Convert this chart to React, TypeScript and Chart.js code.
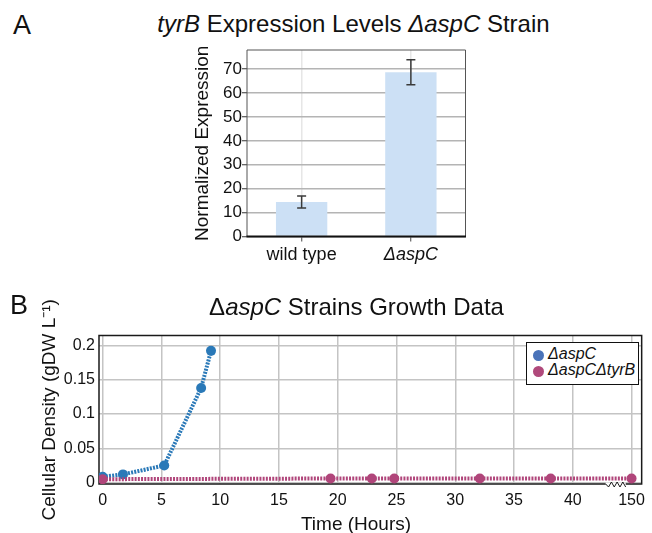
import React, { useEffect, useRef } from "react";
import { Chart, registerables } from "chart.js";

Chart.register(...registerables);

const FONT = '"Liberation Sans", Arial, Helvetica, sans-serif';

// ---- Panel A data ----
const expressionCategories = ["wild type", "ΔaspC"];
const expressionValues = [14.4, 68.7];
const expressionErrors = [2.5, 5.2];
const expressionTicks = [0, 10, 20, 30, 40, 50, 60, 70];

// ---- Panel B data ----
const aspCTime = [0, 1.73, 5.24, 8.38, 9.22];
const aspCDensity = [0.0086, 0.012, 0.025, 0.138, 0.192];
const aspCtyrBTime = [0, 19.39, 22.9, 24.81, 32.09, 38.12, 150];
const aspCtyrBDensity = [0.005, 0.006, 0.006, 0.006, 0.006, 0.006, 0.006];
const timeTicks = [0, 5, 10, 15, 20, 25, 30, 35, 40, 150];
const densityTicks = [0, 0.05, 0.1, 0.15, 0.2];
const seriesNames = ["ΔaspC", "ΔaspCΔtyrB"];

// broken time axis: everything past 40 h is drawn at the 45 slot
const BREAK_SLOT = 45;
const axisPos = (t: number) => (t > BREAK_SLOT ? BREAK_SLOT : t);

const BLUE = "#2a79b8";
const PINK = "#b0457a";
const LEGEND_BLUE = "#4a73b9";
const LEGEND_PINK = "#b0497b";
const BAR = "#cce0f5";

const panelAPlugin = {
  id: "panelAFrame",
  afterDatasetsDraw(chart: any) {
    const { ctx, chartArea, scales } = chart;
    const { left, right, top, bottom } = chartArea;
    const x = scales.x;
    const y = scales.y;
    ctx.save();
    ctx.strokeStyle = "#3a3a3a";
    ctx.lineWidth = 1.5;
    expressionValues.forEach((v, i) => {
      const cx = x.getPixelForValue(i);
      const yt = y.getPixelForValue(v + expressionErrors[i]);
      const yb = y.getPixelForValue(v - expressionErrors[i]);
      ctx.beginPath();
      ctx.moveTo(cx, yt);
      ctx.lineTo(cx, yb);
      ctx.moveTo(cx - 4.5, yt);
      ctx.lineTo(cx + 4.5, yt);
      ctx.moveTo(cx - 4.5, yb);
      ctx.lineTo(cx + 4.5, yb);
      ctx.stroke();
    });
    ctx.strokeStyle = "#555";
    ctx.lineWidth = 1;
    ctx.beginPath();
    ctx.moveTo(left, bottom);
    ctx.lineTo(left, top);
    ctx.lineTo(right, top);
    ctx.lineTo(right, bottom);
    ctx.stroke();
    ctx.strokeStyle = "#111";
    ctx.lineWidth = 2;
    ctx.beginPath();
    ctx.moveTo(left - 0.5, bottom);
    ctx.lineTo(right + 0.5, bottom);
    ctx.stroke();
    ctx.restore();
  },
};

const panelBPlugin = {
  id: "panelBFrame",
  beforeDatasetsDraw(chart: any) {
    const { ctx, chartArea } = chart;
    const { left, right, top, bottom } = chartArea;
    ctx.save();
    ctx.strokeStyle = "#1a1a1a";
    ctx.lineWidth = 1.5;
    ctx.strokeRect(left, top, right - left, bottom - top);
    ctx.restore();
  },
  afterDraw(chart: any) {
    const { ctx, chartArea, scales } = chart;
    const { bottom } = chartArea;
    const x0 = scales.x.getPixelForValue(42.8);
    const x1 = scales.x.getPixelForValue(44.5);
    ctx.save();
    ctx.strokeStyle = "#fff";
    ctx.lineWidth = 3;
    ctx.beginPath();
    ctx.moveTo(x0, bottom);
    ctx.lineTo(x1, bottom);
    ctx.stroke();
    ctx.strokeStyle = "#1a1a1a";
    ctx.lineWidth = 1;
    ctx.beginPath();
    const n = 7;
    for (let i = 0; i <= n; i++) {
      const px = x0 + ((x1 - x0) * i) / n;
      const py = i % 2 === 0 ? bottom - 2 : bottom + 3;
      if (i === 0) ctx.moveTo(px, bottom);
      else ctx.lineTo(px, py);
    }
    ctx.stroke();
    ctx.restore();
  },
};

export default function App() {
  const refA = useRef<HTMLCanvasElement | null>(null);
  const refB = useRef<HTMLCanvasElement | null>(null);

  useEffect(() => {
    Chart.defaults.font.family = FONT;
    Chart.defaults.color = "#111";

    const chartA = new Chart(refA.current as HTMLCanvasElement, {
      type: "bar",
      data: {
        labels: expressionCategories,
        datasets: [
          {
            data: expressionValues,
            backgroundColor: BAR,
            barPercentage: 0.47,
            categoryPercentage: 1,
          },
        ],
      },
      options: {
        animation: false,
        responsive: false,
        maintainAspectRatio: false,
        layout: { padding: { top: 12, right: 14.5, left: 0, bottom: 0 } },
        plugins: {
          legend: { display: false },
          tooltip: { enabled: false },
        },
        scales: {
          x: {
            grid: {
              offset: false,
              color: "#e6e6e6",
              lineWidth: 1.5,
              tickColor: "#444",
              tickLength: 5,
              tickWidth: 1,
            },
            border: { display: false },
            ticks: {
              color: "#111",
              padding: 3,
              font: (c: any) => ({
                size: 18,
                family: FONT,
                style: c.index === 1 ? "italic" : "normal",
              }),
            },
            afterFit: (s: any) => {
              s.height = 43.5;
            },
          },
          y: {
            min: 0,
            max: 78,
            afterBuildTicks: (s: any) => {
              s.ticks = expressionTicks.map((v) => ({ value: v }));
            },
            grid: {
              color: "#b4b4b4",
              lineWidth: 1.5,
              tickColor: "#333",
              tickLength: 5,
              tickWidth: 1,
            },
            border: { display: false },
            ticks: {
              color: "#111",
              padding: 0,
              font: { size: 17, family: FONT },
              callback: (v: any, i: number) => String(expressionTicks[i]),
            },
            title: {
              display: true,
              text: "Normalized Expression",
              color: "#111",
              font: { size: 19, family: FONT },
              padding: { top: 41, bottom: 0 },
            },
            afterFit: (s: any) => {
              s.width = 97;
            },
          },
        },
      } as any,
      plugins: [panelAPlugin],
    });

    const chartB = new Chart(refB.current as HTMLCanvasElement, {
      type: "line",
      data: {
        datasets: [
          {
            label: seriesNames[1],
            data: aspCtyrBTime.map((t, i) => ({ x: axisPos(t), y: aspCtyrBDensity[i] })),
            borderColor: PINK,
            backgroundColor: PINK,
            pointBackgroundColor: PINK,
            borderWidth: 4,
            borderDash: [2, 1.2],
            pointRadius: 5,
            pointBorderWidth: 0,
            tension: 0,
            order: 0,
          },
          {
            label: seriesNames[0],
            data: aspCTime.map((t, i) => ({ x: axisPos(t), y: aspCDensity[i] })),
            borderColor: BLUE,
            backgroundColor: BLUE,
            pointBackgroundColor: BLUE,
            borderWidth: 4,
            borderDash: [2, 1.2],
            pointRadius: 5,
            pointBorderWidth: 0,
            tension: 0,
            order: 1,
          },
        ],
      },
      options: {
        animation: false,
        responsive: false,
        maintainAspectRatio: false,
        layout: { padding: { top: 50.5, right: 4, left: 0, bottom: 0 } },
        plugins: {
          legend: { display: false },
          tooltip: { enabled: false },
        },
        scales: {
          x: {
            type: "linear",
            min: -0.31,
            max: 45.86,
            afterBuildTicks: (s: any) => {
              s.ticks = timeTicks.map((t) => ({ value: axisPos(t) }));
            },
            grid: { color: "#c4c4c4", lineWidth: 1.5, drawTicks: false },
            border: { display: false },
            ticks: {
              color: "#111",
              padding: 7,
              autoSkip: false,
              maxRotation: 0,
              font: { size: 16, family: FONT },
              callback: (v: any, i: number) => String(timeTicks[i]),
            },
            afterFit: (s: any) => {
              s.height = 49;
            },
          },
          y: {
            min: -0.002,
            max: 0.2144,
            afterBuildTicks: (s: any) => {
              s.ticks = densityTicks.map((v) => ({ value: v }));
            },
            grid: { color: "#c4c4c4", lineWidth: 1.5, drawTicks: false },
            border: { display: false },
            ticks: {
              color: "#111",
              padding: 4,
              font: { size: 16, family: FONT },
              callback: (v: any, i: number) => String(densityTicks[i]),
            },
            title: {
              display: true,
              text: "Cellular Density (gDW L⁻¹)",
              color: "#111",
              font: { size: 19, family: FONT },
              padding: { top: 38, bottom: 0 },
            },
            afterFit: (s: any) => {
              s.width = 99;
            },
          },
        },
      } as any,
      plugins: [panelBPlugin],
    });

    return () => {
      chartA.destroy();
      chartB.destroy();
    };
  }, []);

  const txt: React.CSSProperties = {
    position: "absolute",
    fontFamily: FONT,
    color: "#111",
    lineHeight: 1,
    whiteSpace: "nowrap",
    margin: 0,
  };

  return (
    <div
      style={{
        position: "absolute",
        left: 0,
        top: 0,
        width: 652,
        height: 533,
        background: "#fff",
        overflow: "hidden",
      }}
    >
      <canvas
        ref={refA}
        width={330}
        height={242}
        style={{ position: "absolute", left: 150, top: 38, width: 330, height: 242 }}
      />
      <canvas
        ref={refB}
        width={652}
        height={248}
        style={{ position: "absolute", left: 0, top: 285, width: 652, height: 248 }}
      />

      <div style={{ ...txt, left: 13, top: 12, fontSize: 27 }}>A</div>
      <div style={{ ...txt, left: 353.5, top: 11.7, fontSize: 24, transform: "translateX(-50%)" }}>
        <i>tyrB</i> Expression Levels <i>ΔaspC</i> Strain
      </div>

      <div style={{ ...txt, left: 10, top: 292, fontSize: 27 }}>B</div>
      <div style={{ ...txt, left: 356.5, top: 294.7, fontSize: 24, transform: "translateX(-50%)" }}>
        Δ<i>aspC</i> Strains Growth Data
      </div>

      <div style={{ ...txt, left: 356, top: 514, fontSize: 19, transform: "translateX(-50%)" }}>
        Time (Hours)
      </div>

      <div
        style={{
          position: "absolute",
          left: 525.5,
          top: 341.5,
          width: 111,
          height: 41,
          border: "1.5px solid #111",
          background: "#fff",
        }}
      >
        <div
          style={{
            position: "absolute",
            left: 6,
            top: 7.5,
            width: 11,
            height: 11,
            borderRadius: "50%",
            background: LEGEND_BLUE,
          }}
        />
        <div style={{ ...txt, left: 21.5, top: 3.5, fontSize: 16, fontStyle: "italic" }}>
          {seriesNames[0]}
        </div>
        <div
          style={{
            position: "absolute",
            left: 6,
            top: 23.2,
            width: 11,
            height: 11,
            borderRadius: "50%",
            background: LEGEND_PINK,
          }}
        />
        <div style={{ ...txt, left: 21.5, top: 19.2, fontSize: 16, fontStyle: "italic" }}>
          {seriesNames[1]}
        </div>
      </div>
    </div>
  );
}
